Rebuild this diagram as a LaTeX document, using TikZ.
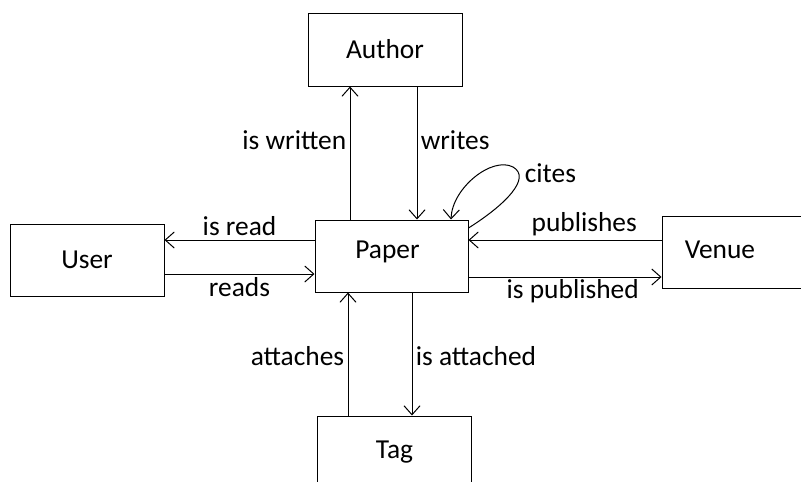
\documentclass[tikz,border=0pt]{standalone}
\usepackage{fontspec}
\setmainfont{Carlito}
\usepackage{tikz}
\tikzstyle{box} = [draw, rectangle, line width=1pt, minimum width=154pt, minimum height=73pt, inner sep=0pt]
\tikzstyle{rel} = [line width=1pt, -{Straight Barb[length=9pt,width=16pt]}]
\usetikzlibrary{arrows.meta,calc}

\begin{document}
\begin{tikzpicture}[
    x=1pt, y=-1pt,
    every node/.style={font=\fontsize{27.4}{32}\selectfont}
]
\clip (0,0) rectangle (801,482);

% Nodes
\node[box] (Author) at (385,49.5) {Author};
\node[box, minimum width=153pt, minimum height=72pt, label={[xshift=-4pt,yshift=4pt]center:Paper}] (Paper) at (391.5,256) {};
\node[box, minimum height=72pt] (User) at (87,260) {User};
\node[box, minimum height=72pt, label={[xshift=-19pt,yshift=2pt]center:Venue}] (Venue) at (739,252) {};
\node[box] (Tag) at (394.5,452.5) {Tag};

% Arrows
\draw[rel] (Paper.north -| 350,0) -- node[pos=0.6, left] {is written} (Author.south -| 350,0);
\draw[rel] (Author.south -| 417,0) -- node[pos=0.4, right] {writes} (Paper.north -| 417,0);
\draw[rel] (Paper.west |- 0,240) -- node[above] {is read} (User.east |- 0,240);
\draw[rel] (User.east |- 0,274) -- node[below] {reads} (Paper.west |- 0,274);
\draw[rel] (Venue.west |- 0,240) -- node[pos=0.4, above] {publishes} (Paper.east |- 0,240);
\draw[rel] (Paper.east |- 0,277) -- node[pos=0.54, below, yshift=1pt] {is published} (Venue.west |- 0,277);
\draw[rel] (Tag.north -| 348,0) -- node[pos=0.48, left] {attaches} (Paper.south -| 348,0);
\draw[rel] (Paper.south -| 412,0) -- node[pos=0.52, right] {is attached} (Tag.north -| 412,0);
\draw[rel] (Paper.east |- 0,228) .. controls (505,205) and (532,178) .. (513,167)
    node[anchor=west, xshift=8pt, yshift=-6pt] {cites}
    .. controls (492,156) and (452,188) .. (Paper.north -| 451,0);

\end{tikzpicture}
\end{document}
